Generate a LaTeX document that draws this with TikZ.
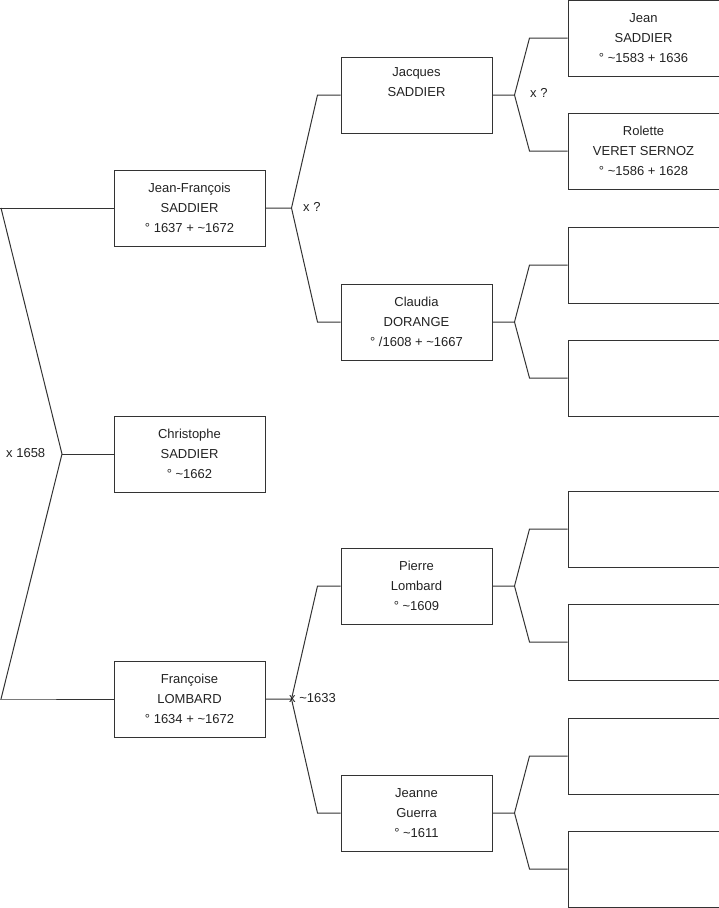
\documentclass[tikz,border=0pt]{standalone}
\usepackage{fontspec}
\setmainfont{Liberation Sans}
\usepackage{tikz}
\usetikzlibrary{positioning,calc}
\definecolor{ink}{HTML}{222222}
\definecolor{wire}{HTML}{333333}
\tikzset{pbox/.style={draw=wire, line width=1pt, align=center, font=\fontsize{13}{20}\selectfont, text=ink, inner sep=0pt, minimum width=151pt, minimum height=76pt},
         mlbl/.style={font=\fontsize{13}{16}\selectfont, text=ink, inner sep=0pt, anchor=west},
         link/.style={draw=wire, line width=1pt}}

\begin{document}
\begin{tikzpicture}[x=1pt, y=-1pt]
\useasboundingbox (0,0) rectangle (719,908);
% generation 1
\node[pbox] (jf) at (189.5,208) {Jean-François\\SADDIER\\° 1637 + \textasciitilde1672};
\node[pbox] (ch) at (189.5,454) {Christophe\\SADDIER\\° \textasciitilde1662};
\node[pbox] (fl) at (189.5,699) {Françoise\\LOMBARD\\° 1634 + \textasciitilde1672};
% generation 2
\node[pbox] (jq) at (416.5,95) {Jacques\\SADDIER\\\strut};
\node[pbox] (cd) at (416.5,322) {Claudia\\DORANGE\\° /1608 + \textasciitilde1667};
\node[pbox] (pl) at (416.5,586) {Pierre\\Lombard\\° \textasciitilde1609};
\node[pbox] (jg) at (416.5,813) {Jeanne\\Guerra\\° \textasciitilde1611};
% generation 3
\node[pbox] (js) at (643.5,38) {Jean\\SADDIER\\° \textasciitilde1583 + 1636};
\node[pbox] (rv) at (643.5,151) {Rolette\\VERET SERNOZ\\° \textasciitilde1586 + 1628};
\node[pbox] (e1) at (643.5,265) {};
\node[pbox] (e2) at (643.5,378) {};
\node[pbox] (e3) at (643.5,529) {};
\node[pbox] (e4) at (643.5,642) {};
\node[pbox] (e5) at (643.5,756) {};
\node[pbox] (e6) at (643.5,869) {};
% forks
\coordinate (v0) at (62,454);
\coordinate (t0) at (1,208);
\coordinate (b0) at (1,699);
\draw[link] (0,208) -- (jf.west);
\draw[link] (t0) -- (v0) -- (b0);
\draw[link] (b0) -- (0,699) -- (fl.west);
\draw[link] (v0) -- (ch.west);
\foreach \kid/\pa/\pb in {jf/jq/cd, fl/pl/jg}{
  \draw[link] (\kid.east) -- ++(26,0) coordinate (v\kid)
    -- ([xshift=-23pt]\pa.west) -- (\pa.west);
  \draw[link] (v\kid) -- ([xshift=-23pt]\pb.west) -- (\pb.west);
}
\foreach \kid/\pa/\pb in {jq/js/rv, cd/e1/e2, pl/e3/e4, jg/e5/e6}{
  \draw[link] (\kid.east) -- ++(22,0) coordinate (v\kid)
    -- ([xshift=-38pt]\pa.west) -- (\pa.west);
  \draw[link] (v\kid) -- ([xshift=-38pt]\pb.west) -- (\pb.west);
}
% marriage labels
\node[mlbl] (m0) at (6,453) {x 1658};
\node[mlbl] (m1) at (303,207) {x ?};
\node[mlbl] (m2) at (289,698) {x \textasciitilde1633};
\node[mlbl] (m3) at (530,93) {x ?};
\end{tikzpicture}
\end{document}
